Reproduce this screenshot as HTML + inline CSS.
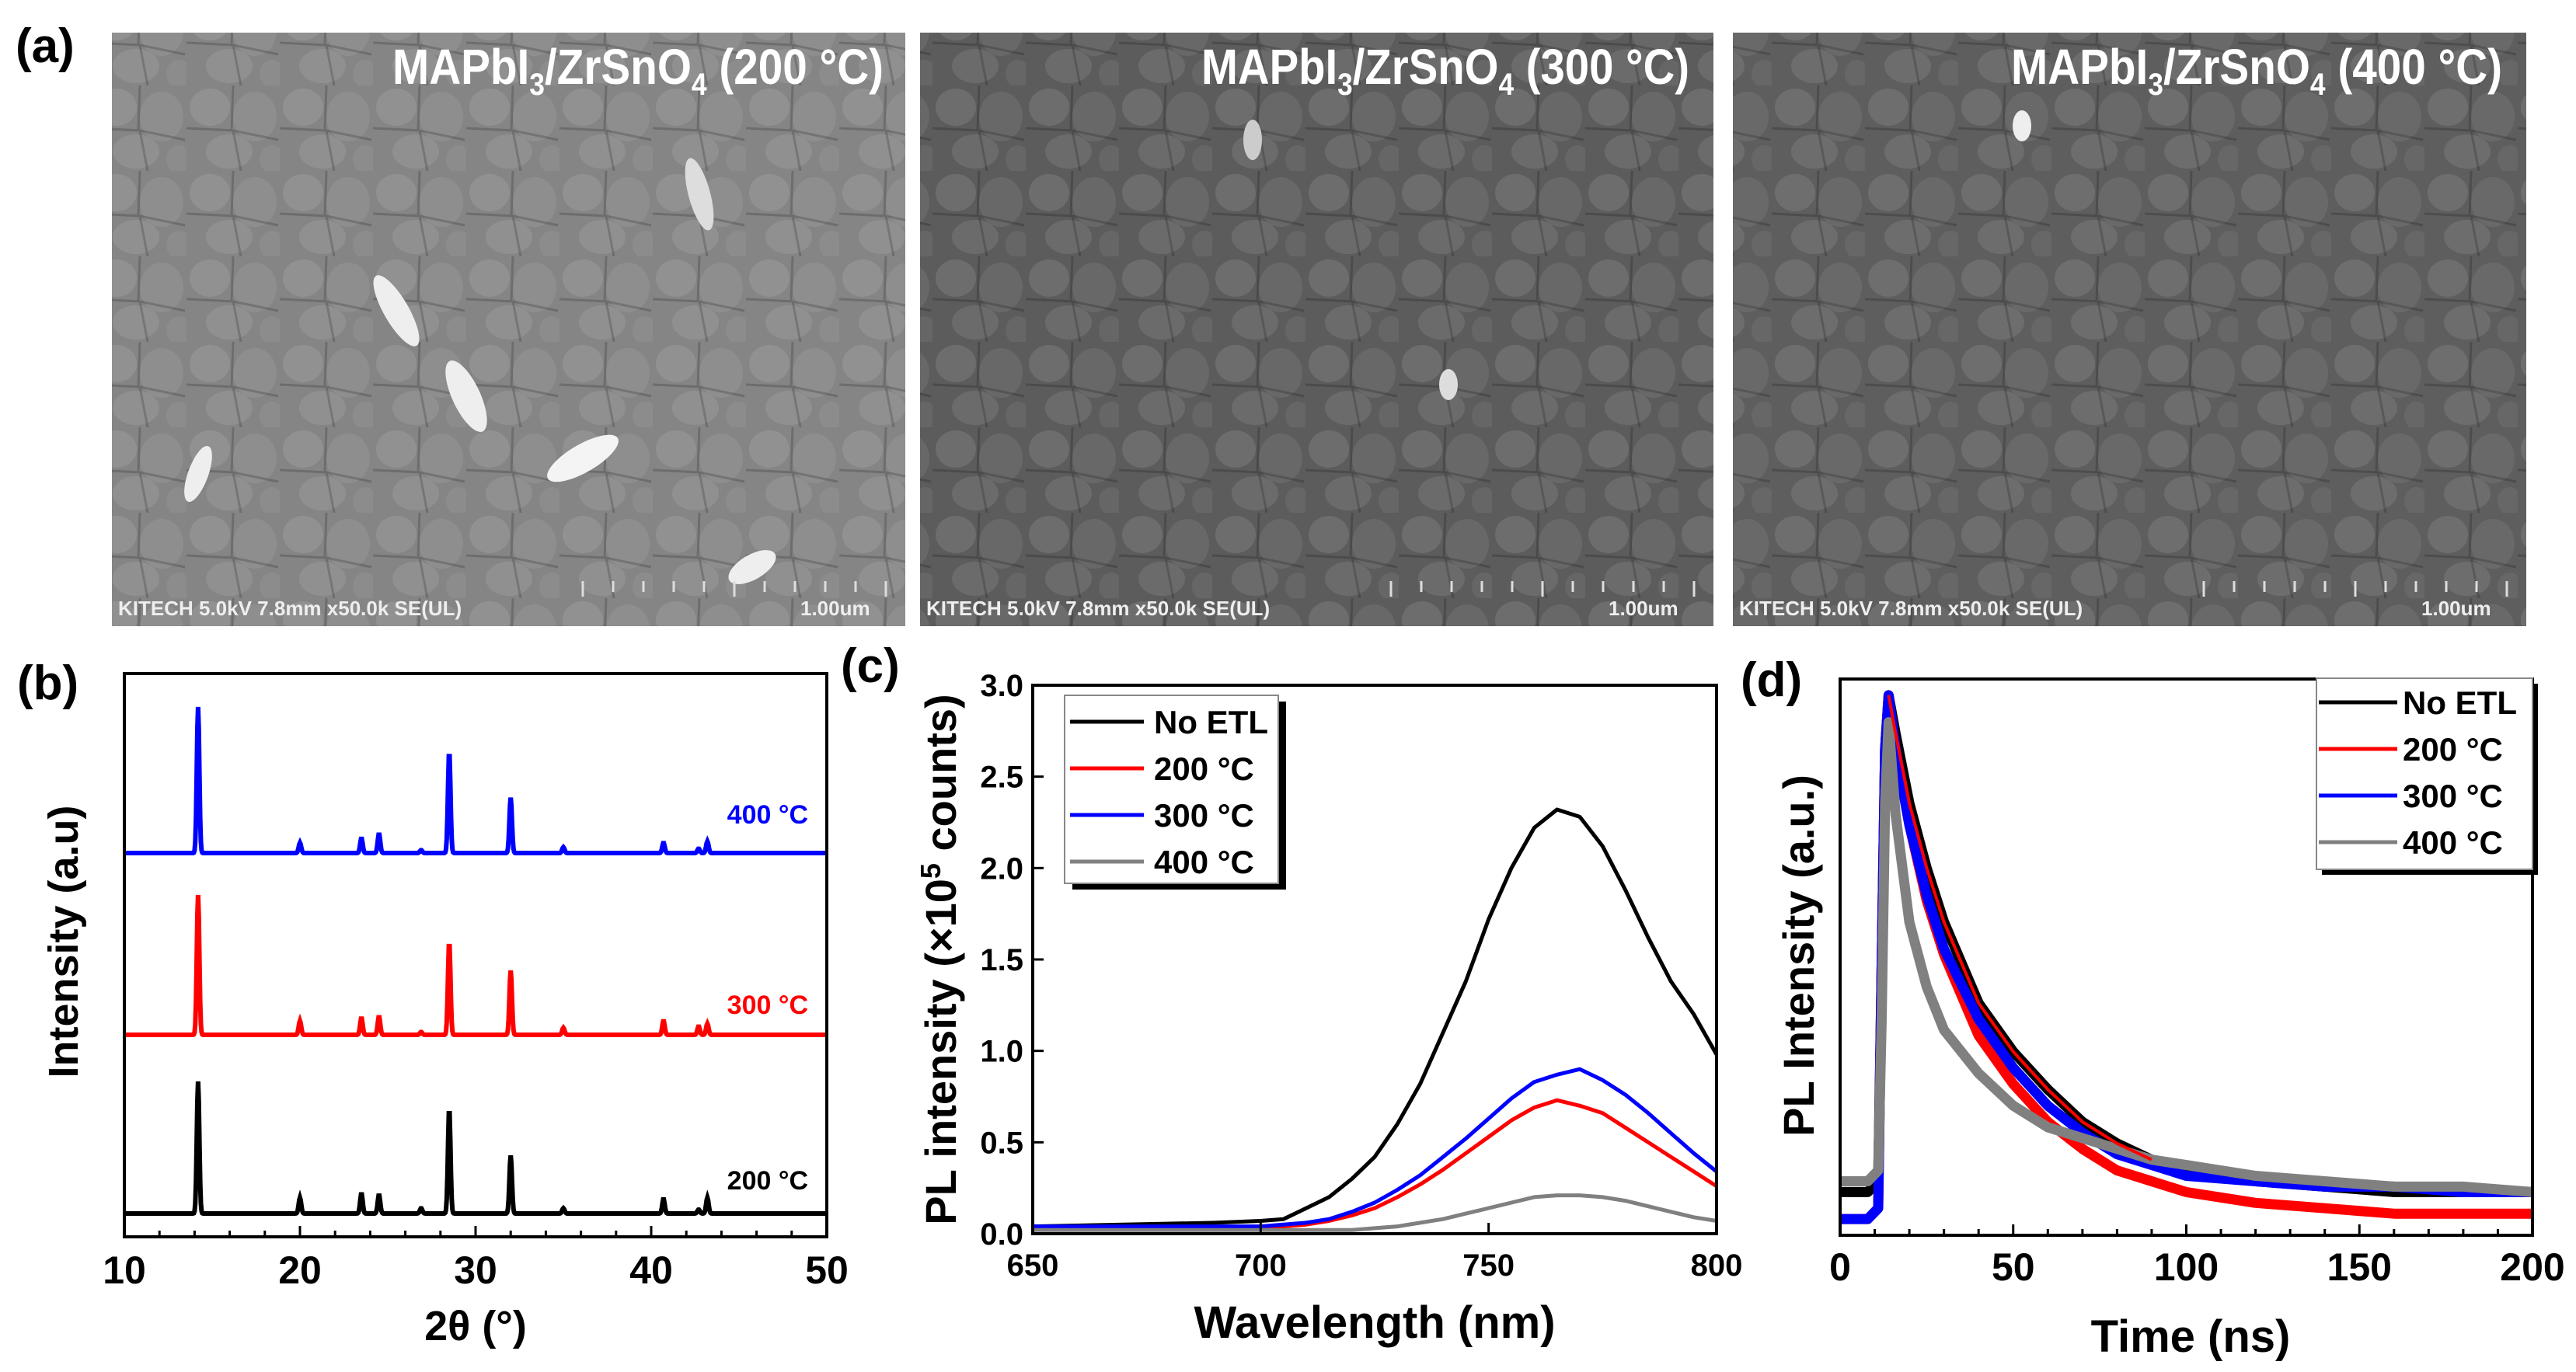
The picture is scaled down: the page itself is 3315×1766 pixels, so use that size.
<!DOCTYPE html>
<html><head><meta charset="utf-8">
<style>
html,body{margin:0;padding:0;background:#fff;}
svg{display:block;}
text{font-family:"Liberation Sans",Arial,sans-serif;font-weight:bold;}
.n{font-family:"Liberation Sans Narrow","Liberation Sans",sans-serif;}
</style></head>
<body>
<svg id="fig" width="3315" height="1766" viewBox="0 0 3315 1766" xmlns="http://www.w3.org/2000/svg">
<defs>
<pattern id="grains" width="120" height="110" patternUnits="userSpaceOnUse">
<ellipse cx="30" cy="28" rx="26" ry="24" fill="#fff" opacity="0.10"/>
<ellipse cx="88" cy="40" rx="28" ry="32" fill="#fff" opacity="0.07"/>
<ellipse cx="55" cy="85" rx="30" ry="22" fill="#fff" opacity="0.09"/>
<ellipse cx="110" cy="95" rx="16" ry="18" fill="#fff" opacity="0.06"/>
<path d="M0 55 L60 58 L70 110 M60 58 L118 70 M60 0 L58 58" stroke="#000" stroke-opacity="0.18" stroke-width="3" fill="none"/>
</pattern>
</defs>
<text x="20" y="80" font-size="62">(a)</text>
<g>
<rect x="144" y="42" width="1021" height="764" fill="#858585"/>
<rect x="144" y="42" width="1021" height="764" fill="url(#grains)"/>
<ellipse cx="510" cy="400" rx="16" ry="52" fill="#eee" transform="rotate(-30 510 400)"/>
<ellipse cx="600" cy="510" rx="18" ry="50" fill="#eee" transform="rotate(-25 600 510)"/>
<ellipse cx="750" cy="590" rx="18" ry="52" fill="#f4f4f4" transform="rotate(60 750 590)"/>
<ellipse cx="900" cy="250" rx="14" ry="48" fill="#ddd" transform="rotate(-15 900 250)"/>
<ellipse cx="255" cy="610" rx="13" ry="38" fill="#eee" transform="rotate(20 255 610)"/>
<ellipse cx="968" cy="730" rx="16" ry="34" fill="#eee" transform="rotate(60 968 730)"/>
<text x="505" y="108" font-size="64" fill="#fff" class="n" textLength="632" lengthAdjust="spacingAndGlyphs">MAPbI<tspan font-size="40" dy="14">3</tspan><tspan dy="-14">/ZrSnO</tspan><tspan font-size="40" dy="14">4</tspan><tspan dy="-14"> (200 °C)</tspan></text>
<text x="152" y="792" font-size="26" fill="#eee" class="n" font-weight="normal">KITECH 5.0kV 7.8mm x50.0k SE(UL)</text>
<text x="1030" y="792" font-size="26" fill="#eee" class="n" font-weight="normal">1.00um</text>
</g>
<g>
<rect x="1184" y="42" width="1021" height="764" fill="#5c5c5c"/>
<rect x="1184" y="42" width="1021" height="764" fill="url(#grains)"/>
<ellipse cx="1612" cy="180" rx="12" ry="26" fill="#ccc"/>
<ellipse cx="1864" cy="495" rx="12" ry="20" fill="#ddd"/>
<text x="1546" y="108" font-size="64" fill="#fff" class="n" textLength="628" lengthAdjust="spacingAndGlyphs">MAPbI<tspan font-size="40" dy="14">3</tspan><tspan dy="-14">/ZrSnO</tspan><tspan font-size="40" dy="14">4</tspan><tspan dy="-14"> (300 °C)</tspan></text>
<text x="1192" y="792" font-size="26" fill="#eee" class="n" font-weight="normal">KITECH 5.0kV 7.8mm x50.0k SE(UL)</text>
<text x="2070" y="792" font-size="26" fill="#eee" class="n" font-weight="normal">1.00um</text>
</g>
<g>
<rect x="2230" y="42" width="1021" height="764" fill="#5e5e5e"/>
<rect x="2230" y="42" width="1021" height="764" fill="url(#grains)"/>
<ellipse cx="2602" cy="162" rx="12" ry="20" fill="#eee"/>
<text x="2588" y="108" font-size="64" fill="#fff" class="n" textLength="632" lengthAdjust="spacingAndGlyphs">MAPbI<tspan font-size="40" dy="14">3</tspan><tspan dy="-14">/ZrSnO</tspan><tspan font-size="40" dy="14">4</tspan><tspan dy="-14"> (400 °C)</tspan></text>
<text x="2238" y="792" font-size="26" fill="#eee" class="n" font-weight="normal">KITECH 5.0kV 7.8mm x50.0k SE(UL)</text>
<text x="3116" y="792" font-size="26" fill="#eee" class="n" font-weight="normal">1.00um</text>
</g>
<g id="scalebars"></g>
<g id="pb"></g><g id="pc"></g><g id="pd"></g>
</svg>
<script>
const NS="http://www.w3.org/2000/svg";
function mk(parent,tag,attrs){const e=document.createElementNS(NS,tag);for(const k in attrs)e.setAttribute(k,attrs[k]);parent.appendChild(e);return e;}
function txt(parent,x,y,s,size,attrs){const e=mk(parent,'text',Object.assign({x:x,y:y,'font-size':size},attrs||{}));e.textContent=s;return e;}

// scale bars
const sb=document.getElementById('scalebars');
[750,1790,2836].forEach(function(x0){for(let i=0;i<=10;i++){const l=mk(sb,'line',{x1:x0+i*39,x2:x0+i*39,y1:748,y2:(i%5==0?768:762),stroke:'#ddd','stroke-width':3});

}});

// ---------- Panel (b) XRD ----------
const xrdPeakPos=[14.2,20.0,23.5,24.5,26.9,28.5,32.0,35.0,40.7,42.7,43.2];
const xrdPeak200=[1.0,0.12,0.15,0.14,0.04,0.79,0.44,0.04,0.11,0.03,0.12];
const xrdPeak300=[1.0,0.1,0.12,0.13,0.02,0.66,0.46,0.05,0.1,0.06,0.08];
const xrdPeak400=[1.0,0.07,0.1,0.13,0.02,0.69,0.38,0.04,0.07,0.03,0.08];
const xrdXTicks=[10,20,30,40,50];
(function(){
const g=document.getElementById('pb');
const L=160,R=1064,T=867,B=1592;
const X=v=>L+(v-10)/40*(R-L);
const series=[{p:xrdPeak400,base:1098,h:188,c:'#0000ff',lab:'400 °C',ly:1060,n:'xrd-400'},
{p:xrdPeak300,base:1332,h:180,c:'#ff0000',lab:'300 °C',ly:1305,n:'xrd-300'},
{p:xrdPeak200,base:1562,h:170,c:'#000',lab:'200 °C',ly:1531,n:'xrd-200'}];
series.forEach(function(s){
 let d='';
 for(let t=10;t<=50.001;t+=0.04){let v=0;xrdPeakPos.forEach(function(pp,i){v+=s.p[i]*Math.exp(-Math.pow((t-pp)/0.1,2));});
  d+=(d?'L':'M')+X(t).toFixed(1)+' '+(s.base-v*s.h).toFixed(1);}
 const p=mk(g,'path',{d:d,fill:'none',stroke:s.c,'stroke-width':6});
 
 
 const t=txt(g,1040,s.ly,s.lab,34,{fill:s.c,'text-anchor':'end'});
 
 
});
const fr=mk(g,'rect',{x:L,y:T,width:R-L,height:B-T,fill:'none',stroke:'#000','stroke-width':4});


for(let v=10;v<=50;v+=2){const tk=mk(g,'line',{x1:X(v),x2:X(v),y1:B,y2:B-(v%10==0?14:8),stroke:'#000','stroke-width':3});

}
xrdXTicks.forEach(function(v){const t=txt(g,X(v),1652,String(v),50,{'text-anchor':'middle'});

});
const xt=txt(g,612,1725,'2θ (°)',54,{'text-anchor':'middle'});


const yt=txt(g,0,0,'Intensity (a.u)',54,{'text-anchor':'middle',transform:'translate(100 1212) rotate(-90)'});


const pl=txt(g,22,900,'(b)',62,{});


})();

// ---------- Panel (c) PL ----------
const plWl=[650,690,700,705,710,715,720,725,730,735,740,745,750,755,760,765,770,775,780,785,790,795,800];
const plNoEtl=[0.04,0.06,0.07,0.08,0.14,0.2,0.3,0.42,0.6,0.82,1.1,1.38,1.72,2.0,2.22,2.32,2.28,2.12,1.88,1.62,1.38,1.2,0.98];
const pl200=[0.03,0.03,0.03,0.04,0.05,0.07,0.1,0.14,0.2,0.27,0.35,0.44,0.53,0.62,0.69,0.73,0.7,0.66,0.58,0.5,0.42,0.34,0.26];
const pl300=[0.04,0.04,0.04,0.05,0.06,0.08,0.12,0.17,0.24,0.32,0.42,0.52,0.63,0.74,0.83,0.87,0.9,0.84,0.76,0.66,0.55,0.44,0.34];
const pl400=[0.02,0.02,0.02,0.02,0.02,0.02,0.02,0.03,0.04,0.06,0.08,0.11,0.14,0.17,0.2,0.21,0.21,0.2,0.18,0.15,0.12,0.09,0.07];
const plYTicks=['0.0','0.5','1.0','1.5','2.0','2.5','3.0'];
const plXTicks=[650,700,750,800];
(function(){
const g=document.getElementById('pc');
const L=1329,R=2209,T=882,B=1588;
const X=v=>L+(v-650)/150*(R-L), Y=v=>B-v/3*(B-T);
const S=[{d:plNoEtl,c:'#000',n:'pl-no-etl',lab:'No ETL'},{d:pl200,c:'#ff0000',n:'pl-200',lab:'200 °C'},{d:pl300,c:'#0000ff',n:'pl-300',lab:'300 °C'},{d:pl400,c:'#808080',n:'pl-400',lab:'400 °C'}];
S.forEach(function(s){
 const pts=plWl.map((w,i)=>X(w).toFixed(1)+','+Y(s.d[i]).toFixed(1)).join(' ');
 const p=mk(g,'polyline',{points:pts,fill:'none',stroke:s.c,'stroke-width':5,'stroke-linejoin':'round'});
 
 
});
const fr=mk(g,'rect',{x:L,y:T,width:R-L,height:B-T,fill:'none',stroke:'#000','stroke-width':4});


plYTicks.forEach(function(s){const v=parseFloat(s);
 const tk=mk(g,'line',{x1:L,x2:L+14,y1:Y(v),y2:Y(v),stroke:'#000','stroke-width':3});
 
 
 const t=txt(g,L-12,Y(v)+14,s,40,{'text-anchor':'end','class':'n'});
 
 });
plXTicks.forEach(function(v){
 const tk=mk(g,'line',{x1:X(v),x2:X(v),y1:B,y2:B-14,stroke:'#000','stroke-width':3});
 
 
 const t=txt(g,X(v),1642,String(v),40,{'text-anchor':'middle','class':'n'});
 
 });
const xt=txt(g,1769,1722,'Wavelength (nm)',58,{'text-anchor':'middle'});


const yt=mk(g,'text',{'font-size':56,'text-anchor':'middle',transform:'translate(1230 1235) rotate(-90)'});
yt.innerHTML='PL intensity (×10<tspan font-size="36" dy="-20">5</tspan><tspan dy="20"> counts)</tspan>';


const pl=txt(g,1082,878,'(c)',62,{});


const lg=mk(g,'g',{});


mk(lg,'rect',{x:1380,y:903,width:275,height:242,fill:'#000'});
mk(lg,'rect',{x:1370,y:895,width:275,height:242,fill:'#fff',stroke:'#888','stroke-width':2});
S.forEach(function(s,i){const y=929+i*60;
 const l=mk(lg,'line',{x1:1377,x2:1472,y1:y,y2:y,stroke:s.c,'stroke-width':5});
 
 
 const t=txt(lg,1485,y+15,s.lab,42,{'class':'n'});
 
 });
})();

// ---------- Panel (d) TRPL ----------
const trTime=[0,8,11,12,13,14,16,20,25,30,40,50,60,70,80,90,100,120,140,160,180,200];
const trNoEtl=[0.08,0.08,0.1,0.5,0.9,1.0,0.93,0.8,0.68,0.58,0.43,0.34,0.27,0.21,0.17,0.14,0.12,0.1,0.09,0.08,0.08,0.08];
const tr200=[0.03,0.03,0.05,0.5,0.9,1.0,0.9,0.76,0.62,0.52,0.37,0.28,0.21,0.16,0.12,0.1,0.08,0.06,0.05,0.04,0.04,0.04];
const tr300=[0.03,0.03,0.05,0.5,0.9,1.0,0.9,0.76,0.63,0.53,0.4,0.31,0.24,0.19,0.15,0.13,0.11,0.1,0.09,0.09,0.08,0.08];
const tr400=[0.1,0.1,0.12,0.4,0.8,0.95,0.78,0.58,0.46,0.38,0.3,0.24,0.2,0.18,0.16,0.14,0.13,0.11,0.1,0.09,0.09,0.08];
const trFitTime=[14,16,20,25,30,40,50,60,70,80,90];
const trFit=[1.0,0.93,0.8,0.68,0.58,0.43,0.34,0.27,0.21,0.17,0.14];
const trXTicks=[0,50,100,150,200];
(function(){
const g=document.getElementById('pd');
const L=2368,R=3259,T=874,B=1590;
const X=v=>L+v/200*(R-L), Y=v=>B-v/1.03*(B-T);
const S=[{d:trNoEtl,c:'#000',n:'trpl-no-etl',lab:'No ETL'},{d:tr200,c:'#ff0000',n:'trpl-200',lab:'200 °C'},{d:tr300,c:'#0000ff',n:'trpl-300',lab:'300 °C'},{d:tr400,c:'#808080',n:'trpl-400',lab:'400 °C'}];
S.forEach(function(s){
 const pts=trTime.map((t,i)=>X(t).toFixed(1)+','+Y(s.d[i]).toFixed(1)).join(' ');
 const p=mk(g,'polyline',{points:pts,fill:'none',stroke:s.c,'stroke-width':13,'stroke-linejoin':'round'});
 
 
});
const fit=mk(g,'polyline',{points:trFitTime.map((t,i)=>X(t).toFixed(1)+','+Y(trFit[i]).toFixed(1)).join(' '),fill:'none',stroke:'#ff0000','stroke-width':4});


const fr=mk(g,'rect',{x:L,y:T,width:R-L,height:B-T,fill:'none',stroke:'#000','stroke-width':4});


for(let v=0;v<=200;v+=10){const tk=mk(g,'line',{x1:X(v),x2:X(v),y1:B,y2:B-(v%50==0?14:8),stroke:'#000','stroke-width':3});

}
trXTicks.forEach(function(v){const t=txt(g,X(v),1648,String(v),50,{'text-anchor':'middle','class':'n'});

});
const xt=txt(g,2819,1740,'Time (ns)',58,{'text-anchor':'middle'});


const yt=txt(g,0,0,'PL Intensity (a.u.)',56,{'text-anchor':'middle',transform:'translate(2334 1230) rotate(-90)'});


const pl=txt(g,2240,896,'(d)',62,{});


const lg=mk(g,'g',{});


mk(lg,'rect',{x:2988,y:880,width:278,height:246,fill:'#000'});
mk(lg,'rect',{x:2981,y:873,width:278,height:246,fill:'#fff',stroke:'#888','stroke-width':2});
S.forEach(function(s,i){const y=904+i*60;
 const l=mk(lg,'line',{x1:2984,x2:3085,y1:y,y2:y,stroke:s.c,'stroke-width':5});
 
 
 const t=txt(lg,3092,y+15,s.lab,42,{'class':'n'});
 
 });
})();
</script>
</body></html>
